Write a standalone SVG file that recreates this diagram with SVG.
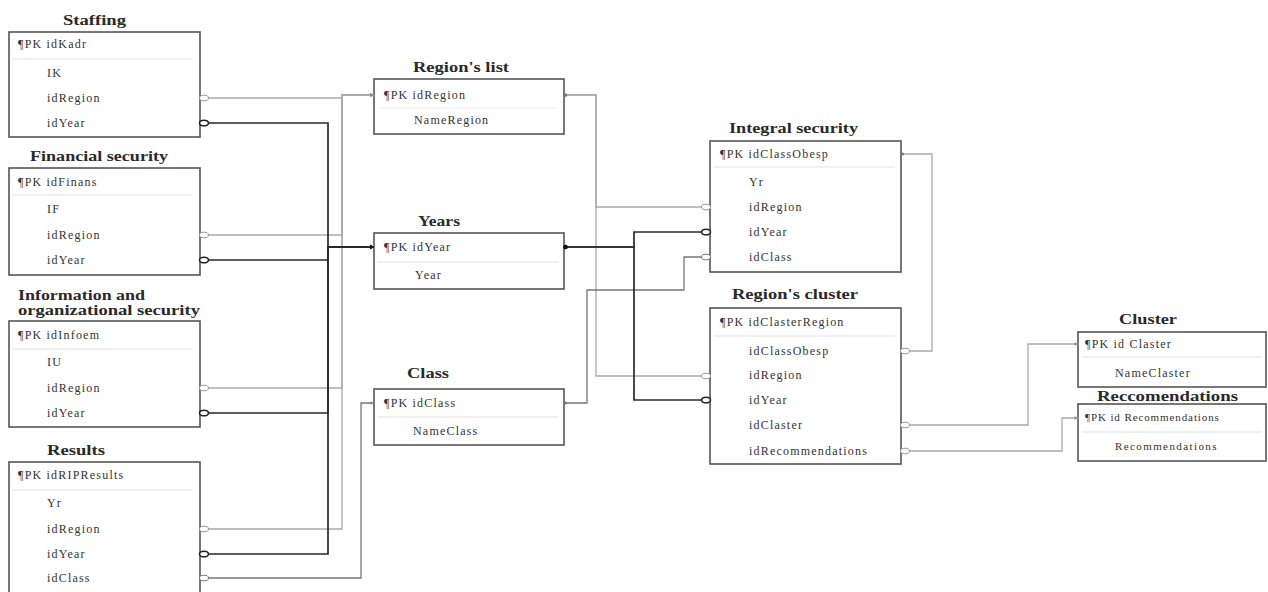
<svg xmlns="http://www.w3.org/2000/svg" width="1268" height="592" viewBox="0 0 1268 592">
<style>
.box{fill:#fff;stroke:#555;stroke-width:1.6}
.sep{stroke:#e2e2e2;stroke-width:1}
.t{font-family:"Liberation Serif","Times New Roman",serif;font-size:15px;font-weight:bold;fill:#2a2a2a}
.f{font-family:"Liberation Serif","Times New Roman",serif;font-size:12px;letter-spacing:1.2px;fill:#333}
.c{fill:none;stroke-linejoin:miter}
.lt{stroke:#aaa;stroke-width:1.3}
.dk{stroke:#2a2a2a;stroke-width:1.7}
.md{stroke:#777;stroke-width:1.3}
</style>
<defs>
<marker id="fkL" markerUnits="userSpaceOnUse" markerWidth="14" markerHeight="10" refX="0" refY="0" orient="auto" overflow="visible"><ellipse cx="4" cy="0" rx="4.5" ry="2.8" fill="#fff" stroke="#999" stroke-width="1"/></marker>
<marker id="fkM" markerUnits="userSpaceOnUse" markerWidth="14" markerHeight="10" refX="0" refY="0" orient="auto" overflow="visible"><ellipse cx="4" cy="0" rx="4.5" ry="2.8" fill="#fff" stroke="#777" stroke-width="1"/></marker>
<marker id="fkD" markerUnits="userSpaceOnUse" markerWidth="14" markerHeight="10" refX="0" refY="0" orient="auto" overflow="visible"><ellipse cx="4" cy="0" rx="4.5" ry="2.8" fill="#fff" stroke="#222" stroke-width="1.6"/></marker>
<marker id="arL" markerUnits="userSpaceOnUse" markerWidth="6" markerHeight="6" refX="0" refY="0" orient="auto" overflow="visible"><path d="M-3.5,-1.8 L0,0 L-3.5,1.8 z" fill="#888"/></marker>
<marker id="arD" markerUnits="userSpaceOnUse" markerWidth="6" markerHeight="6" refX="0" refY="0" orient="auto" overflow="visible"><path d="M-4,-2.2 L0,0 L-4,2.2 z" fill="#111"/></marker>
<marker id="dotL" markerUnits="userSpaceOnUse" markerWidth="6" markerHeight="6" refX="0" refY="0" orient="auto" overflow="visible"><circle cx="-1.5" cy="0" r="1.6" fill="#777"/></marker>
<marker id="dotD" markerUnits="userSpaceOnUse" markerWidth="6" markerHeight="6" refX="0" refY="0" orient="auto" overflow="visible"><circle cx="-1.5" cy="0" r="2.2" fill="#111"/></marker>
</defs>
<rect width="1268" height="592" fill="#fff"/>

<g id="staffing">
<text class="t" x="63" y="25" textLength="63" lengthAdjust="spacingAndGlyphs">Staffing</text>
<rect class="box" x="9" y="32" width="191" height="105"/>
<line class="sep" x1="13" y1="59" x2="193" y2="59"/>
<text class="f" x="18" y="48">¶PK idKadr</text>
<text class="f" x="47" y="77">IK</text>
<text class="f" x="47" y="102">idRegion</text>
<text class="f" x="47" y="127">idYear</text>
</g>

<g id="financial">
<text class="t" x="30" y="161" textLength="138" lengthAdjust="spacingAndGlyphs">Financial security</text>
<rect class="box" x="9" y="168" width="191" height="107"/>
<line class="sep" x1="13" y1="195" x2="193" y2="195"/>
<text class="f" x="18" y="186">¶PK idFinans</text>
<text class="f" x="47" y="213">IF</text>
<text class="f" x="47" y="239">idRegion</text>
<text class="f" x="47" y="264">idYear</text>
</g>

<g id="information">
<text class="t" x="18" y="300" textLength="127" lengthAdjust="spacingAndGlyphs">Information and</text>
<text class="t" x="18" y="315" textLength="182" lengthAdjust="spacingAndGlyphs">organizational security</text>
<rect class="box" x="9" y="321" width="191" height="106"/>
<line class="sep" x1="13" y1="349" x2="193" y2="349"/>
<text class="f" x="18" y="339">¶PK idInfoem</text>
<text class="f" x="47" y="366">IU</text>
<text class="f" x="47" y="392">idRegion</text>
<text class="f" x="47" y="417">idYear</text>
</g>

<g id="results">
<text class="t" x="47" y="455" textLength="58" lengthAdjust="spacingAndGlyphs">Results</text>
<rect class="box" x="9" y="462" width="191" height="140"/>
<line class="sep" x1="13" y1="490" x2="193" y2="490"/>
<text class="f" x="18" y="479">¶PK idRIPResults</text>
<text class="f" x="47" y="507">Yr</text>
<text class="f" x="47" y="533">idRegion</text>
<text class="f" x="47" y="558">idYear</text>
<text class="f" x="47" y="582">idClass</text>
</g>

<g id="regions-list">
<text class="t" x="413" y="72" textLength="96" lengthAdjust="spacingAndGlyphs">Region's list</text>
<rect class="box" x="374" y="79" width="190" height="55"/>
<line class="sep" x1="378" y1="108" x2="558" y2="108" style="stroke:#f0f0f0"/>
<text class="f" x="384" y="99">¶PK idRegion</text>
<text class="f" x="414" y="124">NameRegion</text>
</g>

<g id="years">
<text class="t" x="418" y="226" textLength="42" lengthAdjust="spacingAndGlyphs">Years</text>
<rect class="box" x="374" y="233" width="190" height="56"/>
<line class="sep" x1="378" y1="262" x2="558" y2="262"/>
<text class="f" x="384" y="251">¶PK idYear</text>
<text class="f" x="415" y="279">Year</text>
</g>

<g id="class">
<text class="t" x="407" y="378" textLength="42" lengthAdjust="spacingAndGlyphs">Class</text>
<rect class="box" x="374" y="389" width="190" height="56"/>
<line class="sep" x1="378" y1="417" x2="558" y2="417"/>
<text class="f" x="384" y="407">¶PK idClass</text>
<text class="f" x="413" y="435">NameClass</text>
</g>

<g id="integral-security">
<text class="t" x="729" y="133" textLength="129" lengthAdjust="spacingAndGlyphs">Integral security</text>
<rect class="box" x="710" y="141" width="191" height="131"/>
<line class="sep" x1="714" y1="167" x2="895" y2="167"/>
<text class="f" x="720" y="158">¶PK idClassObesp</text>
<text class="f" x="749" y="186">Yr</text>
<text class="f" x="749" y="211">idRegion</text>
<text class="f" x="749" y="236">idYear</text>
<text class="f" x="749" y="261">idClass</text>
</g>

<g id="regions-cluster">
<text class="t" x="732" y="299" textLength="126" lengthAdjust="spacingAndGlyphs">Region's cluster</text>
<rect class="box" x="710" y="308" width="191" height="156"/>
<line class="sep" x1="714" y1="336" x2="895" y2="336"/>
<text class="f" x="720" y="326">¶PK idClasterRegion</text>
<text class="f" x="749" y="355">idClassObesp</text>
<text class="f" x="749" y="379">idRegion</text>
<text class="f" x="749" y="404">idYear</text>
<text class="f" x="749" y="429">idClaster</text>
<text class="f" x="749" y="455">idRecommendations</text>
</g>

<g id="cluster">
<text class="t" x="1119" y="324" textLength="58" lengthAdjust="spacingAndGlyphs">Cluster</text>
<rect class="box" x="1078" y="332" width="188" height="55"/>
<line class="sep" x1="1082" y1="357" x2="1262" y2="357"/>
<text class="f" x="1085" y="348">¶PK id Claster</text>
<text class="f" x="1115" y="377">NameClaster</text>
</g>

<g id="recommendations">
<text class="t" x="1097" y="401" textLength="141" lengthAdjust="spacingAndGlyphs">Reccomendations</text>
<rect class="box" x="1078" y="404" width="188" height="57"/>
<line class="sep" x1="1082" y1="432" x2="1262" y2="432"/>
<text class="f" x="1085" y="421" style="font-size:11px;letter-spacing:0.9px">¶PK id Recommendations</text>
<text class="f" x="1115" y="450" style="font-size:11px;letter-spacing:1.4px">Recommendations</text>
</g>

<g id="connectors">
<path class="c lt" d="M200,98 H342 V95 H374" marker-start="url(#fkL)" marker-end="url(#arL)"/>
<path class="c lt" d="M200,235 H342 V95 H374" marker-start="url(#fkL)" marker-end="url(#arL)"/>
<path class="c lt" d="M200,388 H342 V95 H374" marker-start="url(#fkL)" marker-end="url(#arL)"/>
<path class="c lt" d="M200,529 H342 V95 H374" marker-start="url(#fkL)" marker-end="url(#arL)"/>
<path class="c lt" d="M710,207 H596 V95 H564" marker-start="url(#fkL)" marker-end="url(#dotL)"/>
<path class="c lt" d="M710,376 H596 V95 H564" marker-start="url(#fkL)" marker-end="url(#dotL)"/>
<path class="c md" d="M200,578 H361 V403 H374" marker-start="url(#fkM)" marker-end="url(#arL)"/>
<path class="c md" d="M710,257 H684 V290 H587 V403 H564" marker-start="url(#fkM)" marker-end="url(#dotL)"/>
<path class="c dk" d="M200,123 H328 V247 H374" marker-start="url(#fkD)" marker-end="url(#arD)"/>
<path class="c dk" d="M200,260 H328 V247 H374" marker-start="url(#fkD)" marker-end="url(#arD)"/>
<path class="c dk" d="M200,413 H328 V247 H374" marker-start="url(#fkD)" marker-end="url(#arD)"/>
<path class="c dk" d="M200,554 H328 V247 H374" marker-start="url(#fkD)" marker-end="url(#arD)"/>
<path class="c dk" d="M710,232 H634 V247 H564" marker-start="url(#fkD)" marker-end="url(#dotD)"/>
<path class="c dk" d="M710,400 H634 V247 H564" marker-start="url(#fkD)" marker-end="url(#dotD)"/>
<path class="c lt" d="M901,351 H932 V154 H901" marker-start="url(#fkL)" marker-end="url(#dotL)"/>
<path class="c lt" d="M901,425 H1028 V344 H1078" marker-start="url(#fkL)" marker-end="url(#arL)"/>
<path class="c lt" d="M901,451 H1062 V418 H1078" marker-start="url(#fkL)" marker-end="url(#arL)"/>
</g>
</svg>
